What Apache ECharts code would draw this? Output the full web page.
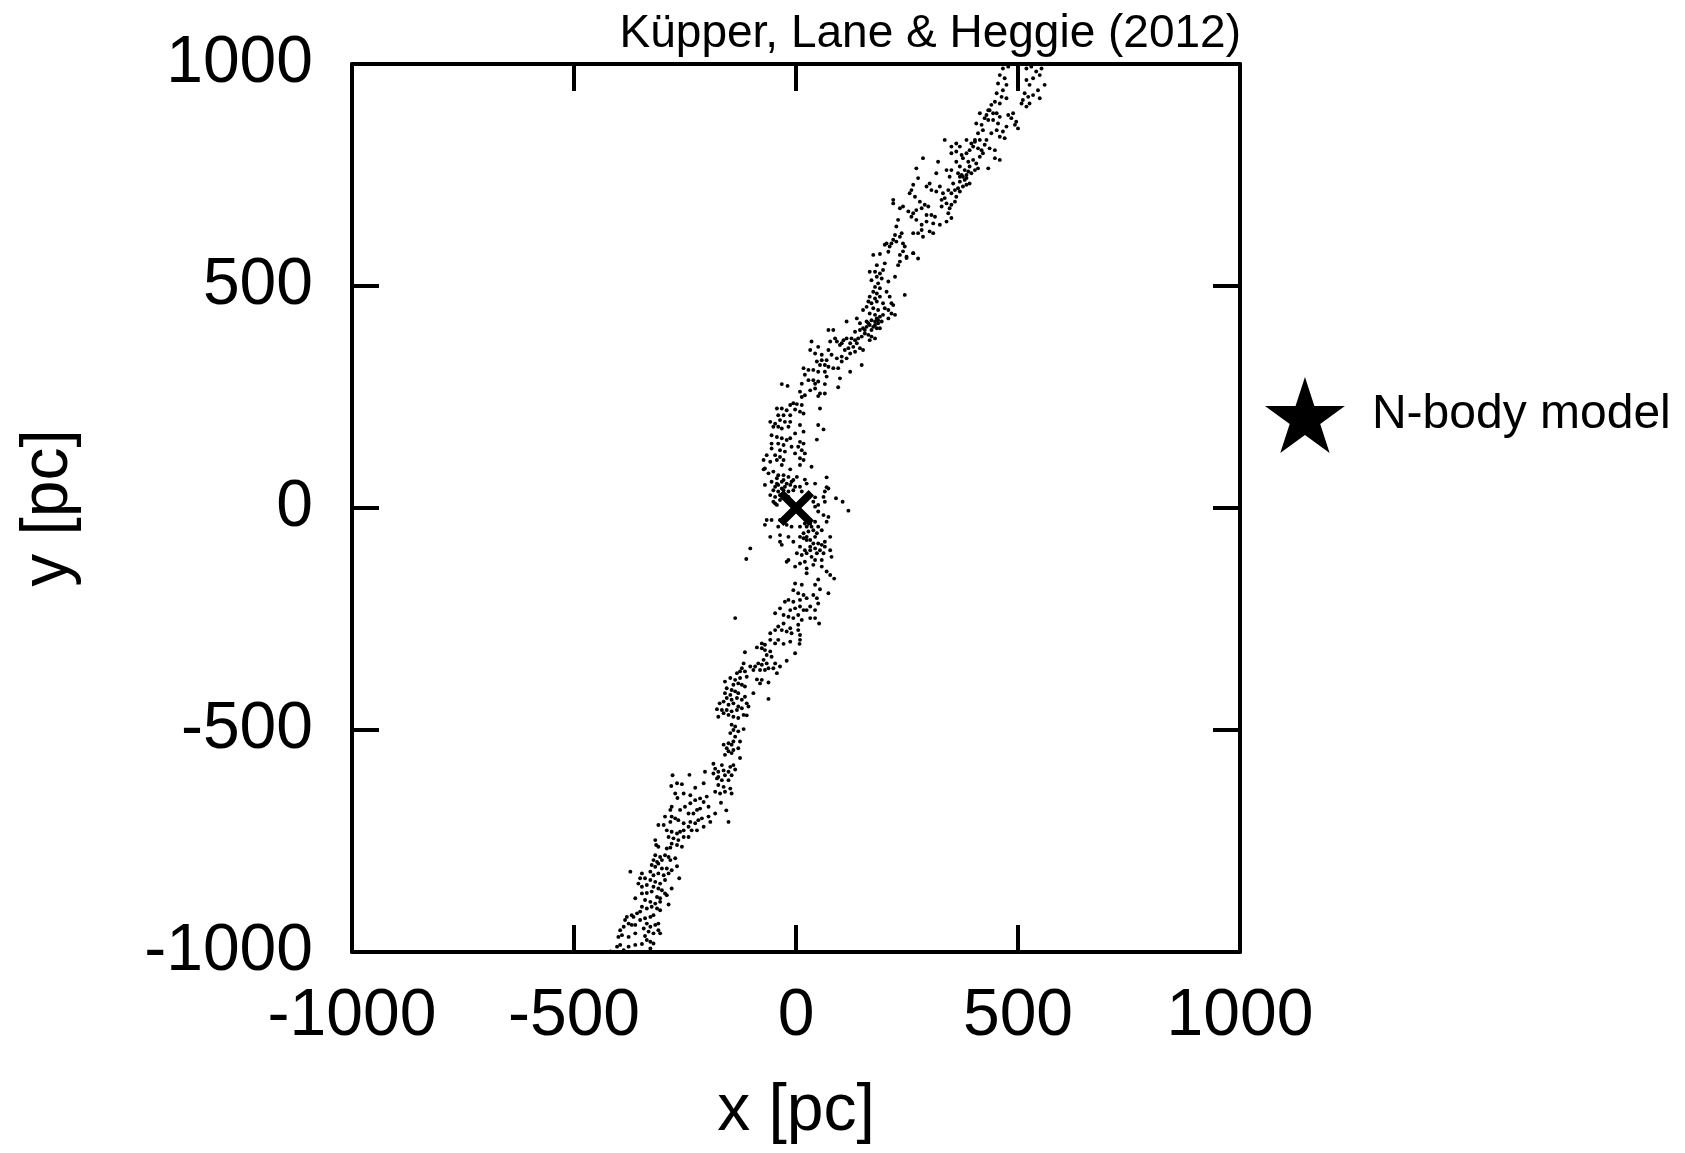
<!DOCTYPE html>
<html><head><meta charset="utf-8">
<script src="https://cdn.jsdelivr.net/npm/echarts@6/dist/echarts.min.js"></script>
<style>html,body{margin:0;padding:0;background:#fff}#c{width:1685px;height:1153px}</style>
</head><body><div id="c"></div>
<script>
// ---- data (x [pc], y [pc]) ----
const tickValues = [-1000, -500, 0, 500, 1000];
const titleText = 'Küpper, Lane & Heggie (2012)';
const legendLabel = 'N-body model';
const clusterCentre = [[0, 0]];

const streamTop = [[466,990],[478,994],[459,975],[470,968],[455,956],[474,953],[466,941],[452,934],[463,926],[474,923],[448,915],[440,908],[459,911],[436,896],[429,885],[444,889],[425,878],[433,874],[418,863],[406,866],[421,851],[410,844],[414,829],[403,825],[399,814],[391,806],[410,810],[425,818],[436,810],[448,806],[429,829],[440,844],[452,851],[459,836],[466,848],[470,833],[474,859],[455,866],[459,881],[478,885],[489,889],[496,870],[493,863],[500,855],[485,878],[444,874],[452,889],[414,889],[433,896],
[519,990],[530,994],[541,983],[553,990],[549,975],[534,968],[519,964],[526,953],[560,953],[545,941],[534,930],[523,926],[511,919],[508,911],[519,904],[526,911],[549,923],[515,934],
[384,799],[376,788],[388,780],[369,769],[380,761],[391,769],[399,784],[406,776],[414,791],[421,799],[403,761],[410,765],[433,765],[448,788],[459,784],[361,780],[365,754],[373,750],[384,750],[380,739],[369,735],[376,724],[365,720],[354,731],[346,746],[339,761],[350,761],[358,716],[369,713],[361,701],[350,709],[343,716],[335,698],[339,686],[350,683],[358,690],[346,675],[343,664],[350,653],[339,645],[328,694],[331,709],[324,724],[328,679],[391,731],[384,728],[361,803],[369,814],[350,814],[373,795],[384,829],[335,829],[350,799],[361,821],[320,780],[316,754],[286,788],[271,765],[275,743],[301,731],[305,716],[316,713],[294,724],[264,728],[260,716],[256,709],[268,701],[279,690],[290,683],[298,679],[283,675],[271,671],[264,664],[253,668],[241,679],[234,675],[219,694],[219,686],[260,656],[294,660],[305,660],[313,656],[309,641],[324,638],[294,645],[283,638],[271,649],[283,626],[275,619],[264,619],[230,649],[226,634],[238,619],[234,611],[223,615],[219,604],[215,596],[204,596],[200,593],[211,589],[226,600],[241,596],[245,589],[241,578],[234,570],[249,563],[264,574],[286,611],[301,623],[309,619],
[388,758],[395,754],[376,746],[369,746],[384,743],[403,829],[395,821],[418,806]];

const streamUpper = [[174,570],[189,572],[208,577],[249,566],[264,574],[275,562],[200,551],[182,547],[178,532],[189,528],[196,536],[166,532],[182,521],[193,517],[170,513],[185,506],[178,498],[189,495],[174,487],[182,483],[166,476],[178,472],[189,476],[204,487],[211,476],[245,480],[223,521],[208,510],[234,555],[230,547],[163,465],[170,461],[182,465],[196,461],[215,461],[219,457],[159,453],[174,450],[185,446],[200,450],[208,446],[151,446],[166,438],[178,435],[189,431],[196,435],[215,438],[223,435],[208,427],[182,427],[170,423],[163,416],[178,420],[185,416],[174,408],[159,408],[151,405],[182,405],[189,405],[144,401],[155,393],[163,390],[170,386],[178,382],[166,378],[148,386],[140,382],[133,378],[125,382],[114,382],[107,378],[122,371],[137,371],[129,363],[118,360],[110,356],[144,360],[151,356],[133,352],[122,348],[103,371],[92,375],[99,367],[77,375],[88,382],[114,420],[137,427],[144,416],[133,397],[73,401],[84,401],[35,375],[50,363],[32,356],[43,348],[58,345],[73,356],[80,345],[92,337],[103,341],[114,337],[103,330],[69,333],[58,333],[47,330],[54,322],[65,322],[73,318],[84,315],[95,315],[39,311],[17,315],[28,311],[50,307],[65,307],[20,300],[28,288],[39,288],[50,285],[69,296],[99,292],[122,307],[148,322],
[159,420],[166,412],[155,401],[178,412],[170,401],[185,423],[193,420]];

const streamCore = [[-32,279],[-19,275],[13,280],[43,280],[65,279],[95,272],[9,262],[20,254],[32,265],[43,269],[54,258],[65,258],[13,250],[50,252],[-13,232],[-6,236],[2,234],[13,232],[-43,224],[-32,224],[-21,220],[-2,222],[9,217],[17,213],[54,224],[-40,209],[-28,209],[-13,209],[-58,194],[-47,190],[-36,198],[-25,194],[-13,194],[-51,183],[-40,183],[-32,179],[-17,183],[9,187],[50,187],[62,177],[-55,164],[-43,160],[-32,157],[-21,153],[-13,157],[-2,168],[17,172],[47,154],[-55,145],[-40,145],[-28,142],[-10,138],[9,149],[17,145],[-55,134],[-36,130],[-25,127],[5,138],[13,130],[20,123],[-66,119],[-47,119],[-36,115],[-28,108],[-2,123],[9,112],[17,108],[35,93],[-73,108],[-70,89],[-58,104],[-43,108],[-32,97],[-13,87],[9,97],[-73,87],[-62,78],[-51,82],[-40,74],[-28,74],[-17,70],[2,70],[20,64],[69,69],[-70,52],[-55,59],[-43,55],[-32,59],[-25,48],[-13,52],[-2,48],[9,48],[24,55],[43,55],[69,47],[73,44],[-51,40],[-40,37],[-28,40],[-17,37],[-6,40],[13,37],[32,29],[43,24],[65,37],[62,25],[-58,29],[-47,25],[-36,29],[-28,22],[-17,25],[39,14],[50,7],[65,14],[90,22],[105,14],[118,-6],[-51,14],[-43,7],[43,3],[50,-8],[62,-16],[73,-20],[69,-31],[-66,-27],[-55,-27],[-70,-38],[-36,-27],[-40,-42],[-21,-38],[-10,-42],[9,-42],[20,-35],[32,-35],[43,-31],[50,-42],[39,-50],[47,-57],[58,-50],[77,-65],[-58,-65],[-36,-61],[-36,-76],[-32,-83],[-17,-65],[-6,-76],[9,-65],[17,-57],[24,-65],[32,-72],[43,-65],[50,-80],[58,-83],[65,-76],[9,-87],[20,-95],[32,-87],[43,-91],[54,-95],[62,-102],[65,-87],[77,-95],[80,-110],[-103,-91],[-112,-115],[2,-102],[13,-106],[24,-102],[35,-110],[43,-117],[58,-117],[-17,-117],[-21,-121],[-2,-132],[9,-125],[20,-121],[24,-136],[39,-128],[58,-132],[69,-143],[77,-151],[86,-159],[24,-147],[50,-161],[-2,-170],[13,-173],[43,-173],[54,-183],[73,-192],[-6,-185],[5,-192],[17,-196],[-17,-207],[-25,-211],[-6,-211],[9,-207],[24,-203],[39,-196],[47,-203],[50,-215],[-13,-230],[-2,-226],[9,-222],[17,-230],[24,-230],[32,-222],[43,-230],[-36,-226],[-47,-237],[-28,-241],[-17,-245],[-6,-248],[5,-241],[13,-252],[32,-248],[43,-248],[-137,-248],
[-40,52],[-32,44],[-21,55],[-10,59],[-47,48],[-43,67],[-28,63],[-6,63],[-25,29],[-36,18],[-47,10],[24,-42],[35,-42],[28,-53],[24,-72],[17,-68],[39,-80],[32,-95],[47,-102]];

const streamLower = [[-28,-260],[-40,-267],[-47,-275],[-32,-275],[-21,-278],[-13,-271],[-10,-282],[5,-263],[5,-275],[9,-286],[9,-297],[8,-306],[-2,-327],[52,-260],[-13,-301],[-28,-306],[-40,-297],[-47,-305],[-58,-282],[-58,-297],[-70,-308],[-77,-305],[-88,-314],[-77,-316],[-70,-320],[-58,-323],[-55,-335],[-66,-331],[-73,-342],[-66,-350],[-77,-353],[-85,-350],[-92,-357],[-103,-357],[-96,-365],[-81,-365],[-70,-365],[-62,-361],[-51,-361],[-47,-350],[-36,-357],[-21,-344],[-43,-372],[-62,-393],[-77,-387],[-88,-386],[-81,-395],[-115,-325],[-118,-350],[-122,-361],[-126,-368],[-133,-372],[-115,-368],[-111,-380],[-126,-383],[-137,-387],[-148,-383],[-160,-391],[-156,-406],[-141,-398],[-130,-395],[-122,-398],[-115,-402],[-145,-410],[-137,-413],[-130,-417],[-148,-421],[-160,-417],[-156,-428],[-145,-432],[-133,-428],[-122,-432],[-115,-425],[-96,-417],[-163,-436],[-152,-443],[-141,-440],[-130,-447],[-111,-440],[-107,-447],[-167,-455],[-156,-455],[-145,-458],[-133,-455],[-122,-451],[-163,-462],[-152,-466],[-141,-470],[-130,-473],[-118,-466],[-111,-467],[-62,-430],[-145,-488],[-137,-492],[-141,-500],[-130,-503],[-118,-498],[-148,-507],[-137,-515],[-141,-526],[-126,-526],[-152,-530],[-163,-533],[-145,-533],[-156,-541],[-141,-545],[-130,-541],[-152,-548],[-160,-556],[-145,-552],[-126,-563],[-178,-453],[-175,-470],[-172,-440]];

const streamBottom = [[-186,-576],[-182,-587],[-186,-598],[-175,-594],[-167,-579],[-163,-591],[-160,-602],[-152,-594],[-148,-583],[-141,-579],[-137,-589],[-145,-602],[-152,-613],[-167,-613],[-175,-624],[-182,-639],[-171,-643],[-160,-639],[-148,-632],[-145,-643],[-163,-628],[-169,-664],[-157,-681],[-152,-707],[-178,-609],[-175,-606],[-205,-594],[-240,-601],[-278,-602],[-281,-626],[-268,-620],[-257,-622],[-272,-643],[-267,-653],[-253,-643],[-238,-647],[-227,-630],[-208,-620],[-238,-665],[-227,-658],[-216,-654],[-208,-662],[-201,-650],[-197,-673],[-216,-677],[-223,-680],[-231,-688],[-242,-688],[-250,-673],[-261,-680],[-280,-673],[-283,-680],[-280,-695],[-295,-695],[-283,-707],[-272,-699],[-265,-703],[-253,-710],[-238,-707],[-227,-710],[-220,-703],[-212,-699],[-197,-695],[-182,-688],[-193,-707],[-298,-714],[-310,-714],[-291,-726],[-280,-729],[-268,-733],[-261,-729],[-253,-726],[-242,-718],[-235,-726],[-223,-726],[-208,-718],[-287,-741],[-276,-744],[-265,-748],[-253,-741],[-242,-741],[-280,-756],[-268,-759],[-257,-763],[-291,-767],[-283,-765],[-317,-748],[-315,-759],[-310,-763],[-317,-782],[-306,-786],[-295,-782],[-287,-786],[-283,-793],[-272,-789],[-268,-807],[-302,-793],[-313,-797],[-321,-793],[-325,-804],[-317,-808],[-310,-801],[-302,-812],[-291,-812],[-328,-819],[-321,-827],[-310,-823],[-298,-827],[-287,-823],[-280,-816],[-373,-819],[-347,-823],[-351,-834],[-340,-834],[-328,-838],[-317,-842],[-306,-846],[-295,-838],[-263,-834],[-355,-846],[-347,-853],[-336,-849],[-321,-853],[-310,-857],[-302,-861],[-295,-868],[-280,-857],[-347,-868],[-336,-867],[-325,-864],[-313,-876],[-306,-879],[-291,-872],[-287,-893],[-362,-879],[-340,-883],[-328,-887],[-317,-891],[-306,-887],[-347,-898],[-336,-902],[-325,-898],[-313,-902],[-306,-906],[-351,-909],[-358,-913],[-370,-917],[-381,-921],[-385,-928],[-377,-936],[-366,-921],[-370,-939],[-362,-939],[-351,-928],[-340,-924],[-328,-921],[-321,-917],[-336,-936],[-328,-943],[-317,-939],[-310,-936],[-343,-947],[-332,-954],[-321,-958],[-310,-951],[-388,-943],[-396,-951],[-400,-966],[-392,-962],[-377,-966],[-362,-958],[-336,-973],[-328,-977],[-321,-981],[-347,-982],[-362,-984],[-377,-988],[-396,-984],[-403,-988],[-388,-996],[-328,-992],[-418,-999],[-306,-958],[-340,-964]];

const starPoints = streamTop.concat(streamUpper, streamCore, streamLower, streamBottom);

// ---- chart ----
const FONT = '"Liberation Sans", Arial, Helvetica, sans-serif';
const STAR = 'path://M50,0L61.23,34.55L97.55,34.55L68.16,55.9L79.39,90.45L50,69.1L20.61,90.45L31.84,55.9L2.45,34.55L38.77,34.55Z';
const CROSS = 'path://M3,0L10,7L17,0L20,3L13,10L20,17L17,20L10,13L3,20L0,17L7,10L0,3Z';
const axisBase = {
  type: 'value', min: tickValues[0], max: tickValues[tickValues.length - 1], interval: 500,
  axisLine: { show: true, onZero: false, lineStyle: { color: '#000', width: 4 } },
  axisTick: { show: true, inside: true, length: 27, lineStyle: { color: '#000', width: 4 } },
  splitLine: { show: false }
};
const labelStyle = { color: '#000', fontFamily: FONT, fontSize: 66 };
const plainNum = v => String(v);
const chart = echarts.init(document.getElementById('c'), null, { renderer: 'canvas' });
chart.setOption({
  animation: false,
  backgroundColor: '#fff',
  title: { text: titleText, right: 444, top: 11, padding: 0,
    textStyle: { fontFamily: FONT, fontSize: 46, fontWeight: 'normal', color: '#000' } },
  legend: { data: [{ name: legendLabel, icon: STAR, itemStyle: { color: '#000', opacity: 1 } }], left: 1265, top: 377, padding: 0,
    itemWidth: 86, itemHeight: 76, selectedMode: false,
    textStyle: { fontFamily: FONT, fontSize: 48, color: '#000', padding: [0, 0, 0, 19] } },
  grid: { left: 352, top: 64, width: 888, height: 888 },
  xAxis: [
    Object.assign({}, axisBase, { position: 'bottom', name: 'x [pc]', nameLocation: 'middle', nameGap: 127,
      nameTextStyle: labelStyle,
      axisLabel: Object.assign({ margin: 32, showMinLabel: true, showMaxLabel: true, formatter: plainNum }, labelStyle) }),
    Object.assign({}, axisBase, { position: 'top', axisLabel: { show: false } })
  ],
  yAxis: [
    Object.assign({}, axisBase, { position: 'left', name: 'y [pc]', nameLocation: 'middle', nameGap: 270, nameRotate: 90,
      nameTextStyle: labelStyle,
      axisLabel: Object.assign({ margin: 39, showMinLabel: true, showMaxLabel: true, formatter: plainNum }, labelStyle) }),
    Object.assign({}, axisBase, { position: 'right', axisLabel: { show: false } })
  ],
  series: [
    { type: 'scatter', name: legendLabel, data: starPoints, symbol: 'circle', symbolSize: 3.9,
      itemStyle: { color: '#000', opacity: 1 }, silent: true, clip: true },
    { type: 'scatter', name: 'centre', data: clusterCentre, symbol: CROSS, symbolSize: 36,
      itemStyle: { color: '#000', opacity: 1 }, silent: true }
  ]
});
</script></body></html>
